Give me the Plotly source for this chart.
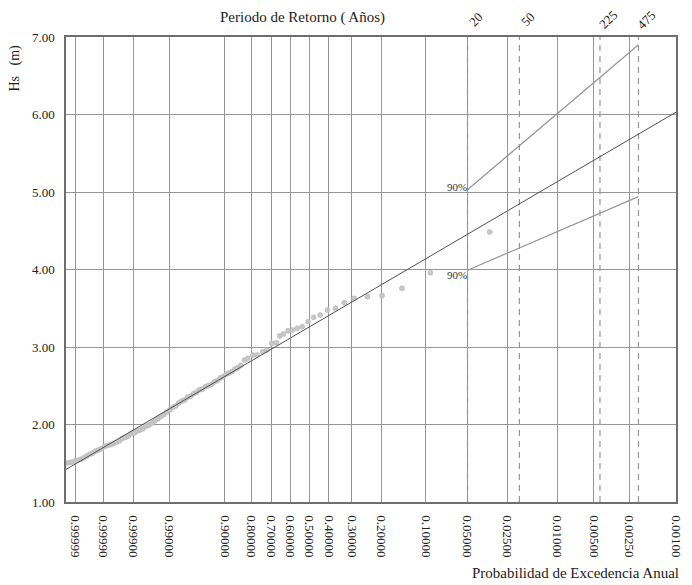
import numpy as np
import plotly.graph_objects as go

# ---------------- data ----------------
prob_ticks = [0.99999, 0.9999, 0.999, 0.99, 0.9, 0.8, 0.7, 0.6, 0.5, 0.4, 0.3, 0.2,
              0.1, 0.05, 0.025, 0.01, 0.005, 0.0025, 0.001]
prob_tick_labels = ["0.99999", "0.99990", "0.99900", "0.99000", "0.90000", "0.80000",
                    "0.70000", "0.60000", "0.50000", "0.40000", "0.30000", "0.20000",
                    "0.10000", "0.05000", "0.02500", "0.01000", "0.00500", "0.00250",
                    "0.00100"]
hs_ticks = [1, 2, 3, 4, 5, 6, 7]
hs_tick_labels = ["1.00", "2.00", "3.00", "4.00", "5.00", "6.00", "7.00"]
return_periods = [20, 50, 225, 475]

axis_prob_range = [0.9999951, 0.001]

obs_prob = [0.9999951, 0.9999939, 0.9999924, 0.9999904, 0.9999879, 0.9999846, 0.9999805,
            0.999975, 0.999968, 0.999959, 0.9999475, 0.9999329, 0.9999141, 0.99989,
            0.99986, 0.999822, 0.999775, 0.999715, 0.99964, 0.999548, 0.999434, 0.999294,
            0.999123, 0.998911, 0.998658, 0.998352, 0.99799, 0.99755, 0.99703, 0.99641,
            0.99569, 0.99485, 0.99386, 0.99271, 0.99141, 0.98988, 0.98814, 0.9862,
            0.98397, 0.98147, 0.97864, 0.97555, 0.97207, 0.9681, 0.9639, 0.9592, 0.9541,
            0.9486, 0.9425, 0.9361, 0.9291, 0.9216, 0.9135, 0.9049, 0.8960, 0.8864,
            0.8761, 0.8657, 0.8545, 0.8433,
            0.828, 0.814, 0.792, 0.7725, 0.745, 0.724, 0.699, 0.674, 0.657, 0.637, 0.612,
            0.589, 0.563, 0.536, 0.505, 0.476, 0.443, 0.407, 0.370, 0.331, 0.291, 0.243,
            0.197, 0.146, 0.093, 0.034]
obs_hs = [1.500, 1.508, 1.516, 1.528, 1.540, 1.553, 1.570, 1.595, 1.615, 1.632, 1.658,
          1.672, 1.689, 1.717, 1.729, 1.741, 1.754, 1.771, 1.789, 1.821, 1.833, 1.851,
          1.883, 1.890, 1.918, 1.930, 1.947, 1.980, 1.992, 2.019, 2.047, 2.074, 2.102,
          2.129, 2.161, 2.189, 2.221, 2.238, 2.276, 2.303, 2.315, 2.353, 2.365, 2.398,
          2.415, 2.447, 2.455, 2.487, 2.504, 2.517, 2.549, 2.566, 2.599, 2.616, 2.649,
          2.666, 2.683, 2.716, 2.733, 2.765,
          2.832, 2.854, 2.897, 2.897, 2.939, 2.961, 3.048, 3.055, 3.142, 3.168, 3.210,
          3.219, 3.241, 3.262, 3.327, 3.383, 3.413, 3.477, 3.499, 3.572, 3.628, 3.649,
          3.662, 3.757, 3.959, 4.484]

fit_prob = [0.9999951, 0.001]
fit_hs = [1.42, 6.03]

band_prob = [1 / 20, 1 / 475]
band_upper_hs = [5.03, 6.90]
band_lower_hs = [3.99, 4.94]
band_label = "90%"

# ------------- probability scale (Weibull POT type) -------------
LN_LAMBDA = 2.55
SHAPE_EXP = 0.76


def xt(p):
    p = np.asarray(p, dtype=float)
    u = -np.log(-np.log1p(-p))
    return (u + LN_LAMBDA) ** SHAPE_EXP


FONT = "Liberation Serif, Times New Roman, serif"
GRID = "rgb(150,150,150)"

fig = go.Figure()

# return period dashed lines
for T in return_periods:
    fig.add_trace(go.Scatter(
        x=xt([1 / T, 1 / T]), y=[hs_ticks[0], hs_ticks[-1]], mode="lines",
        line=dict(color="rgb(150,150,150)", width=1.2, dash="6px,5px"),
        hoverinfo="skip", showlegend=False))

# observed points
fig.add_trace(go.Scatter(
    x=xt(obs_prob), y=obs_hs, mode="markers",
    marker=dict(size=5, color="rgb(200,200,200)",
                line=dict(color="rgb(180,180,180)", width=0.6)),
    showlegend=False))

# fitted line
fig.add_trace(go.Scatter(
    x=xt(fit_prob), y=fit_hs, mode="lines",
    line=dict(color="rgb(80,80,80)", width=1), showlegend=False))

# confidence band lines
for hs in (band_upper_hs, band_lower_hs):
    fig.add_trace(go.Scatter(
        x=xt(band_prob), y=hs, mode="lines",
        line=dict(color="rgb(150,150,150)", width=1.2), showlegend=False))

annotations = []
# 90% labels
annotations.append(dict(x=float(xt(band_prob[0])), y=band_upper_hs[0], xref="x", yref="y",
                        text=band_label, showarrow=False, xanchor="right", yanchor="middle",
                        xshift=1, yshift=3, font=dict(family=FONT, size=11, color="#333")))
annotations.append(dict(x=float(xt(band_prob[0])), y=band_lower_hs[0], xref="x", yref="y",
                        text=band_label, showarrow=False, xanchor="right", yanchor="middle",
                        xshift=1, yshift=-5, font=dict(family=FONT, size=11, color="#333")))

# return period labels on top
for T in return_periods:
    annotations.append(dict(x=float(xt(1 / T)), y=1.0, xref="x", yref="paper",
                            text=str(T), showarrow=False, textangle=-45,
                            xanchor="center", yanchor="middle", xshift=8, yshift=18,
                            font=dict(family=FONT, size=13, color="#222")))

annotations.append(dict(x=0.387, y=1.041, xref="paper", yref="paper",
                        text="Periodo de Retorno ( Años)", showarrow=False,
                        xanchor="center", yanchor="middle",
                        font=dict(family=FONT, size=15, color="#222")))
annotations.append(dict(x=-0.083, y=0.933, xref="paper", yref="paper",
                        text="Hs\u00a0\u00a0\u00a0(m)", showarrow=False, textangle=-90,
                        xanchor="center", yanchor="middle",
                        font=dict(family=FONT, size=14, color="#222")))
annotations.append(dict(x=1.008, y=-0.153, xref="paper", yref="paper",
                        text="Probabilidad de Excedencia Anual", showarrow=False,
                        xanchor="right", yanchor="middle",
                        font=dict(family=FONT, size=15, color="#222")))

fig.update_layout(
    width=692, height=585,
    margin=dict(l=66, r=8, t=37, b=83),
    paper_bgcolor="white", plot_bgcolor="white",
    font=dict(family=FONT, size=13, color="#222"),
    annotations=annotations,
    xaxis=dict(
        range=[float(v) for v in xt(axis_prob_range)],
        tickmode="array", tickvals=[float(v) for v in xt(prob_ticks)],
        ticktext=prob_tick_labels, tickangle=90,
        showgrid=True, gridcolor=GRID, gridwidth=1,
        showline=True, linecolor="rgb(110,110,110)", linewidth=1.5, mirror=True,
        ticks="outside", ticklen=9, tickcolor="rgba(0,0,0,0)",
        tickfont=dict(family=FONT, size=13, color="#222"),
        zeroline=False,
    ),
    yaxis=dict(
        range=[hs_ticks[0], hs_ticks[-1]],
        tickmode="array", tickvals=hs_ticks, ticktext=hs_tick_labels,
        showgrid=True, gridcolor=GRID, gridwidth=1,
        showline=True, linecolor="rgb(110,110,110)", linewidth=1.5, mirror=True,
        ticks="outside", ticklen=7, tickcolor="rgba(0,0,0,0)",
        tickfont=dict(family=FONT, size=13, color="#222"),
        zeroline=False,
    ),
)

fig.write_html("out.html")
